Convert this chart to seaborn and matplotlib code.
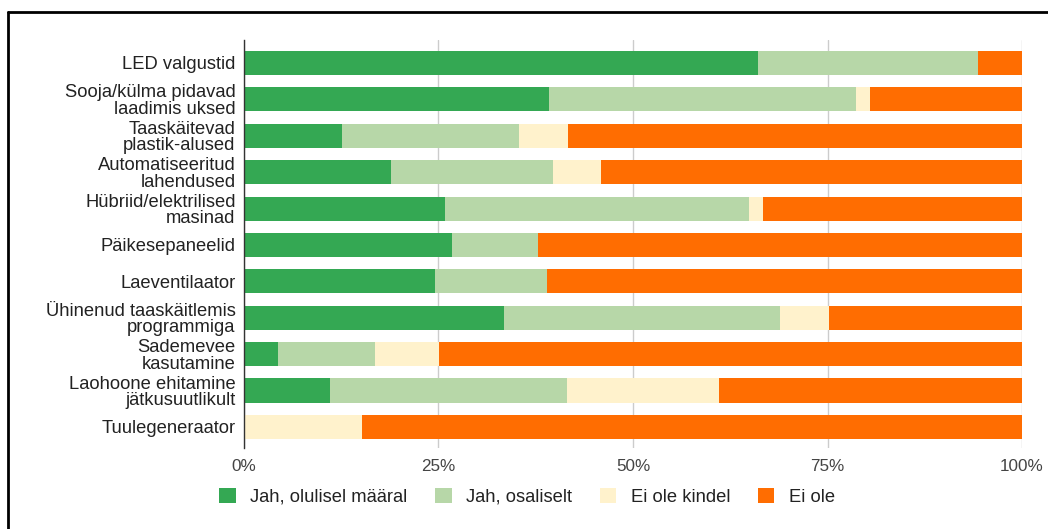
import matplotlib
matplotlib.use("Agg")
import matplotlib.pyplot as plt
from matplotlib.lines import Line2D
from matplotlib.patches import Patch
import numpy as np
import pandas as pd
import seaborn as sns

categories = [
    "LED valgustid",
    "Sooja/külma pidavad\nlaadimis uksed",
    "Taaskäitevad\nplastik-alused",
    "Automatiseeritud\nlahendused",
    "Hübriid/elektrilised\nmasinad",
    "Päikesepaneelid",
    "Laeventilaator",
    "Ühinenud taaskäitlemis\nprogrammiga",
    "Sademevee\nkasutamine",
    "Laohoone ehitamine\njätkusuutlikult",
    "Tuulegeneraator",
]

series_names = ["Jah, olulisel määral", "Jah, osaliselt", "Ei ole kindel", "Ei ole"]

jah_olulisel = [66.1, 39.2, 12.6, 18.9, 25.9, 26.7, 24.5, 33.4, 4.4, 11.0, 0.0]
jah_osaliselt = [28.2, 39.4, 22.8, 20.8, 39.0, 11.1, 14.4, 35.5, 12.4, 30.5, 0.0]
ei_ole_kindel = [0.0, 1.8, 6.3, 6.2, 1.8, 0.0, 0.0, 6.3, 8.3, 19.5, 15.2]
ei_ole = [5.7, 19.6, 58.3, 54.1, 33.3, 62.2, 61.1, 24.8, 74.9, 39.0, 84.8]

colors = ["#34a853", "#b7d7a8", "#fff2cc", "#ff6d01"]
tick_values = [0, 25, 50, 75, 100]
tick_labels = ["0%", "25%", "50%", "75%", "100%"]

sns.set_theme(style="white")
plt.rcParams["font.family"] = ["Liberation Sans", "DejaVu Sans"]

df = pd.DataFrame({
    "kategooria": categories,
    series_names[0]: jah_olulisel,
    series_names[1]: jah_osaliselt,
    series_names[2]: ei_ole_kindel,
    series_names[3]: ei_ole,
})
values = df[series_names].to_numpy()
shares = values / values.sum(axis=1, keepdims=True) * 100
cum = np.cumsum(shares, axis=1)

fig = plt.figure(figsize=(10.48, 5.29), dpi=100)
ax = fig.add_axes([0.2328, 0.1531, 0.9752 - 0.2328, 0.9244 - 0.1531])

# stacked bars: draw cumulative totals from the outermost segment inward
for i in range(len(series_names) - 1, -1, -1):
    layer = pd.DataFrame({"kategooria": categories, "summa": cum[:, i]})
    sns.barplot(data=layer, x="summa", y="kategooria", orient="h",
                color=colors[i], saturation=1, width=0.66, ax=ax,
                edgecolor="none", linewidth=0, zorder=2)

ax.set_xlim(0, 100)
ax.set_ylim(len(categories) - 0.5 + 0.08, -0.5 - 0.13)
ax.set_xticks(tick_values)
ax.set_xticklabels(tick_labels)
ax.set_xlabel("")
ax.set_ylabel("")
ax.xaxis.grid(True, color="#cccccc", linewidth=1, zorder=0)
ax.set_axisbelow(True)
for s in ["top", "right", "bottom"]:
    ax.spines[s].set_visible(False)
ax.spines["left"].set_color("#333333")
ax.spines["left"].set_linewidth(1)
ax.spines["left"].set_zorder(5)
ax.tick_params(axis="x", length=0, pad=8, labelsize=12.3, labelcolor="#444444")
ax.tick_params(axis="y", length=0, pad=6, labelsize=13.2, labelcolor="#222222")
for lbl in ax.get_yticklabels():
    lbl.set_linespacing(0.98)

handles = [Patch(facecolor=c, edgecolor="none") for c in colors]
fig.legend(handles, series_names, loc="center", ncol=4,
           bbox_to_anchor=(0.503, 0.061), frameon=False, fontsize=13.2,
           handlelength=0.9, handleheight=0.9, handletextpad=0.8,
           columnspacing=1.5, labelcolor="#222222")

# outer frame of the panel
fig.add_artist(Line2D([8 / 1048, 1.0], [1 - 12 / 529, 1 - 12 / 529],
                      transform=fig.transFigure, color="black", linewidth=2))
fig.add_artist(Line2D([8 / 1048, 8 / 1048], [0.0, 1 - 12 / 529],
                      transform=fig.transFigure, color="black", linewidth=2))

fig.savefig("out.png", dpi=100)
